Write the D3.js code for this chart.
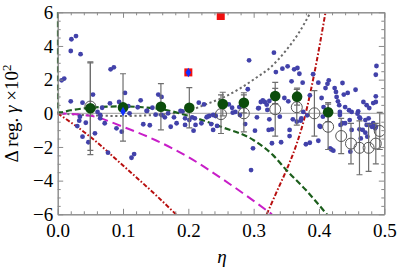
<!DOCTYPE html>
<html>
<head>
<meta charset="utf-8">
<script src="https://cdn.jsdelivr.net/npm/d3@7"></script>
<style>
  body { margin: 0; background: #fff; }
  svg { display: block; }
</style>
</head>
<body>
<svg width="397" height="273"></svg>
<script>
// ---- data ----
const xMajor = [0, 0.1, 0.2, 0.3, 0.4, 0.5];
const yMajor = [-6, -4, -2, 0, 2, 4, 6];

// theory curves
const greenCurve = [[0, 6], [0.0008, 0.05], [0.005, 0.06], [0.02, 0.18], [0.05, 0.33], [0.08, 0.4], [0.1, 0.41],
  [0.13, 0.36], [0.158, 0.25], [0.2, -0.15], [0.25, -0.8], [0.3, -1.6], [0.33, -2.5], [0.35, -3.37],
  [0.38, -4.56], [0.412, -6]];
const grayCurve = [[0, 0], [0.05, -0.12], [0.1, -0.16], [0.15, -0.1], [0.2, 0.15], [0.228, 0.55],
  [0.254, 0.95], [0.28, 1.5], [0.305, 2.14], [0.325, 2.7], [0.35, 3.76], [0.37, 4.83], [0.387, 6]];
const redLeft = [[0, 0], [0.05, -1.4], [0.1, -3.1], [0.15, -4.85], [0.181, -6]];
const redRight = [[0.32, -6], [0.336, -4.6], [0.351, -3.3], [0.366, -1.8], [0.379, -0.1], [0.392, 2.2], [0.41, 6]];
const magentaCurve = [[0, 0], [0.05, -0.15], [0.1, -0.8], [0.15, -1.6], [0.2, -2.6], [0.25, -3.85], [0.3, -5.2], [0.328, -6]];

// filled green points with errors
const greenX = [0.05, 0.1, 0.158, 0.2015, 0.2527, 0.285, 0.333, 0.3665, 0.414];
const greenY = [0.3, 0.35, 0.39, 0.33, 0.55, 0.62, 1.03, 0.99, 0.06];
const greenErr = [2.75, 2.0, 1.37, 1.2, 0.7, 0.6, 0.45, 0.5, 0.57];

// open circles with errors
const openX = [0.05, 0.25, 0.285, 0.333, 0.366, 0.393, 0.414, 0.434, 0.449, 0.462, 0.476, 0.487, 0.493];
const openY = [0.4, -0.05, 0.0, 0.24, 0.36, 0.0, -0.8, -1.35, -1.8, -2.05, -2.05, -1.8, -1.05];
const openErr = [2.6, 1.15, 1.1, 1.6, 1.06, 1.35, 1.35, 1.05, 1.2, 1.6, 1.4, 1.2, 1.1];

// special markers
const redSquares = [[0.2, 2.43], [0.2496, 5.78]];
const bluePts = [[0.1, 0.1], [0.2, 2.43]];

// scattered small dots
const dots = [
  [0.006,1.96],[0.010,2.06],[0.020,3.70],[0.021,4.40],[0.028,4.59],[0.035,3.51],
  [0.020,0.71],[0.038,0.63],[0.054,1.11],[0.061,0.08],[0.068,0.33],[0.081,2.61],[0.086,2.73],
  [0.094,0.67],[0.103,1.21],[0.108,0.43],[0.1225,0.36],[0.127,0.77],[0.137,0.15],[0.145,0.33],
  [0.154,1.11],[0.159,0.97],[0.150,-0.08],[0.034,-0.2],[0.065,-0.3],[0.080,0.59],[0.110,0.0],
  [0.033,-0.44],[0.030,-0.76],[0.038,-1.39],[0.043,-0.56],[0.047,-1.72],[0.057,-1.19],[0.065,-0.1],
  [0.072,-0.59],[0.077,-2.34],[0.090,-0.89],[0.098,-1.09],[0.113,-2.64],[0.117,-2.42],[0.131,-0.65],
  [0.141,-0.71],[0.136,0.14],[0.159,-0.1],
  [0.216,0.63],[0.224,0.53],[0.262,0.53],[0.267,0.33],[0.272,0.08],[0.278,0.37],[0.291,1.43],[0.293,3.15],
  [0.308,0.31],[0.311,0.67],[0.314,0.77],[0.317,0.67],[0.320,0.51],[0.331,3.60],[0.188,0.14],[0.191,0.12],
  [0.164,-0.24],[0.169,0.0],[0.178,-0.24],[0.195,-0.3],[0.21,-0.3],[0.228,-0.24],[0.232,-0.16],[0.238,-0.1],
  [0.242,-0.16],[0.279,-0.1],[0.173,-0.8],[0.182,-0.59],[0.195,-0.69],[0.208,-1.03],[0.220,-0.59],
  [0.238,-0.99],[0.244,-0.75],[0.302,-1.03],[0.305,-0.24],[0.321,0.2],[0.307,0.3],
  [0.2015,-0.4],[0.206,-0.24],[0.211,-0.69],[0.235,-0.64],[0.229,-0.2],[0.268,0.04],[0.287,-0.64],
  [0.299,-2.08],[0.296,-3.37],[0.328,-1.78],[0.323,-0.99],
  [0.334,2.45],[0.344,2.65],[0.352,2.79],[0.362,2.61],[0.367,2.69],[0.370,2.35],[0.358,1.9],[0.375,1.82],
  [0.391,2.32],[0.399,1.82],[0.410,1.5],[0.413,1.75],[0.415,1.96],[0.424,1.5],[0.426,1.27],[0.427,0.97],
  [0.429,0.71],[0.431,0.48],[0.436,1.8],[0.438,1.11],[0.444,1.21],[0.456,1.4],[0.440,0.37],[0.446,0.18],
  [0.450,0.08],[0.460,0.12],[0.468,0.67],[0.473,0.48],[0.477,0.31],[0.483,0.61],[0.487,0.67],[0.487,1.01],
  [0.487,2.29],[0.488,2.81],[0.347,0.91],[0.353,0.71],[0.386,1.07],[0.376,0.08],[0.382,-0.12],[0.404,0.91],
  [0.407,0.37],[0.432,0.08],[0.459,-0.02],[0.324,0.73],[0.340,-0.2],[0.360,-0.36],[0.373,-0.3],[0.324,-0.36],
  [0.328,-0.95],[0.355,-1.35],[0.402,-0.8],[0.406,-0.2],[0.432,-0.1],[0.440,-0.59],[0.447,-0.4],[0.450,-0.99],
  [0.463,-0.3],[0.467,-0.99],[0.473,-0.69],[0.481,-0.8],[0.486,-0.89],
  [0.342,-1.72],[0.355,-0.99],[0.366,-0.5],[0.372,-0.44],[0.380,-1.84],[0.386,-1.75],
  [0.399,-1.63],[0.401,-0.75],[0.417,-2.08],[0.419,-2.15],[0.422,-2.22],[0.433,-0.69],[0.436,-0.59],[0.448,-2.28],
  [0.462,-0.95],[0.464,-1.49],[0.471,-1.15],[0.474,-1.39],[0.477,-0.69],[0.462,-0.24],[0.471,-0.4],[0.476,-0.3],
  [0.483,-0.59],[0.487,-0.8]
];

// ---- layout ----
const plotL = 57.7, plotR = 384.3, plotT = 12.3, plotB = 214.3;
const frameColor = '#8a8a8a',
      serif = '"Liberation Serif", "Times New Roman", serif';

const xScale = d3.scaleLinear().domain([0, 0.5]).range([plotL, plotR]);
const yScale = d3.scaleLinear().domain([-6, 6]).range([plotB, plotT]);

const xMinor = d3.range(0, 0.5001, 0.02).filter(v => Math.abs(v * 10 - Math.round(v * 10)) > 1e-6);
const yMinor = d3.range(-6, 6.001, 0.5).filter(v => Math.abs(v / 2 - Math.round(v / 2)) > 1e-6);

let svg = d3.select('svg');

svg.append('defs').append('clipPath').attr('id', 'plotclip')
    .append('rect')
    .attr('x', plotL - 1).attr('y', plotT - 1)
    .attr('width', plotR - plotL + 2).attr('height', plotB - plotT + 2);

let plot = svg.append('g').attr('clip-path', 'url(#plotclip)');

// zero line
plot.append('line')
    .attr('x1', xScale(0)).attr('x2', xScale(0.5))
    .attr('y1', yScale(0)).attr('y2', yScale(0))
    .attr('stroke', '#a0a0a0').attr('stroke-width', 1);

let line = d3.line()
    .x(d => xScale(d[0]))
    .y(d => yScale(d[1]))
    .curve(d3.curveMonotoneX);

function drawCurve(data, color, dash, w) {
    plot.append('path')
        .datum(data)
        .attr('d', line)
        .attr('fill', 'none')
        .attr('stroke', color)
        .attr('stroke-width', w)
        .attr('stroke-dasharray', dash);
}

drawCurve(grayCurve, '#6a6a6a', '2.2,2.6', 2);
drawCurve(magentaCurve, '#c81ec8', '9,5', 2);
drawCurve(redLeft, '#b80f0f', '4.5,2,1.6,2', 2);
drawCurve(redRight, '#b80f0f', '4.5,2,1.6,2', 2);
drawCurve(greenCurve, '#1c5e1c', '6,3', 2.2);

// scattered dots
plot.selectAll('.dot')
    .data(dots)
    .enter()
    .append('circle')
    .attr('class', 'dot')
    .attr('cx', d => xScale(d[0]))
    .attr('cy', d => yScale(d[1]))
    .attr('r', 2.4)
    .attr('fill', '#4242aa');

// error bars
function drawErrors(xs, ys, es) {
    xs.forEach((xv, i) => {
        let px = xScale(xv),
            y1 = yScale(ys[i] + es[i]),
            y2 = yScale(ys[i] - es[i]);
        let g = plot.append('g').attr('stroke', '#6e6e6e').attr('stroke-width', 1.2);
        g.append('line').attr('x1', px).attr('x2', px).attr('y1', y1).attr('y2', y2);
        g.append('line').attr('x1', px - 3).attr('x2', px + 3).attr('y1', y1).attr('y2', y1);
        g.append('line').attr('x1', px - 3).attr('x2', px + 3).attr('y1', y2).attr('y2', y2);
    });
}
drawErrors(openX, openY, openErr);
drawErrors(greenX, greenY, greenErr);

plot.selectAll('.open')
    .data(openX)
    .enter()
    .append('circle')
    .attr('class', 'open')
    .attr('cx', d => xScale(d))
    .attr('cy', (d, i) => yScale(openY[i]))
    .attr('r', 5.5)
    .attr('fill', 'none')
    .attr('stroke', '#555')
    .attr('stroke-width', 1);

plot.selectAll('.gpt')
    .data(greenX)
    .enter()
    .append('circle')
    .attr('class', 'gpt')
    .attr('cx', d => xScale(d))
    .attr('cy', (d, i) => yScale(greenY[i]))
    .attr('r', 5.3)
    .attr('fill', '#0c4d0c');

plot.selectAll('.rsq')
    .data(redSquares)
    .enter()
    .append('rect')
    .attr('class', 'rsq')
    .attr('x', d => xScale(d[0]) - 4)
    .attr('y', d => yScale(d[1]) - 4)
    .attr('width', 8).attr('height', 8)
    .attr('fill', '#f01010');

plot.selectAll('.bpt')
    .data(bluePts)
    .enter()
    .append('path')
    .attr('class', 'bpt')
    .attr('transform', d => `translate(${xScale(d[0])},${yScale(d[1])})`)
    .attr('d', d3.symbol().type(d3.symbolDiamond).size(26))
    .attr('fill', '#1030ff');

// ---- frame & ticks ----
function styleAxis(g) {
    g.select('.domain').attr('stroke', frameColor);
    g.selectAll('.tick line').attr('stroke', frameColor);
    g.selectAll('.tick text')
        .attr('fill', '#000')
        .style('font-family', serif)
        .style('font-size', '19px');
}

svg.append('g').attr('transform', `translate(0,${plotB})`)
    .call(d3.axisBottom(xScale).tickValues(xMajor).tickSize(-5.5).tickSizeOuter(0)
        .tickPadding(9.5).tickFormat(d3.format('.1f')))
    .call(styleAxis);
svg.append('g').attr('transform', `translate(0,${plotB})`)
    .call(d3.axisBottom(xScale).tickValues(xMinor).tickSize(-3).tickSizeOuter(0).tickFormat(''))
    .call(styleAxis);

svg.append('g').attr('transform', `translate(0,${plotT})`)
    .call(d3.axisTop(xScale).tickValues(xMajor).tickSize(-5.5).tickSizeOuter(0).tickFormat(''))
    .call(styleAxis);
svg.append('g').attr('transform', `translate(0,${plotT})`)
    .call(d3.axisTop(xScale).tickValues(xMinor).tickSize(-3).tickSizeOuter(0).tickFormat(''))
    .call(styleAxis);

svg.append('g').attr('transform', `translate(${plotL},0)`)
    .call(d3.axisLeft(yScale).tickValues(yMajor).tickSize(-5.5).tickSizeOuter(0)
        .tickPadding(4.5).tickFormat(d3.format('d')))
    .call(styleAxis);
svg.append('g').attr('transform', `translate(${plotL},0)`)
    .call(d3.axisLeft(yScale).tickValues(yMinor).tickSize(-3).tickSizeOuter(0).tickFormat(''))
    .call(styleAxis);

svg.append('g').attr('transform', `translate(${plotR},0)`)
    .call(d3.axisRight(yScale).tickValues(yMajor).tickSize(-5.5).tickSizeOuter(0).tickFormat(''))
    .call(styleAxis);
svg.append('g').attr('transform', `translate(${plotR},0)`)
    .call(d3.axisRight(yScale).tickValues(yMinor).tickSize(-3).tickSizeOuter(0).tickFormat(''))
    .call(styleAxis);

// ---- axis labels ----
svg.append('text')
    .attr('x', 222).attr('y', 263)
    .attr('text-anchor', 'middle')
    .style('font-family', serif)
    .style('font-size', '19px')
    .style('font-style', 'italic')
    .text('η');

let ylab = svg.append('text')
    .attr('transform', 'translate(18,113.5) rotate(-90)')
    .attr('text-anchor', 'middle')
    .style('font-family', serif)
    .style('font-size', '19px');
ylab.append('tspan').text('Δ reg. ');
ylab.append('tspan').style('font-style', 'italic').text('γ');
ylab.append('tspan').text(' ×10');
ylab.append('tspan').attr('dy', -7).style('font-size', '13px').text('2');
</script>
</body>
</html>
